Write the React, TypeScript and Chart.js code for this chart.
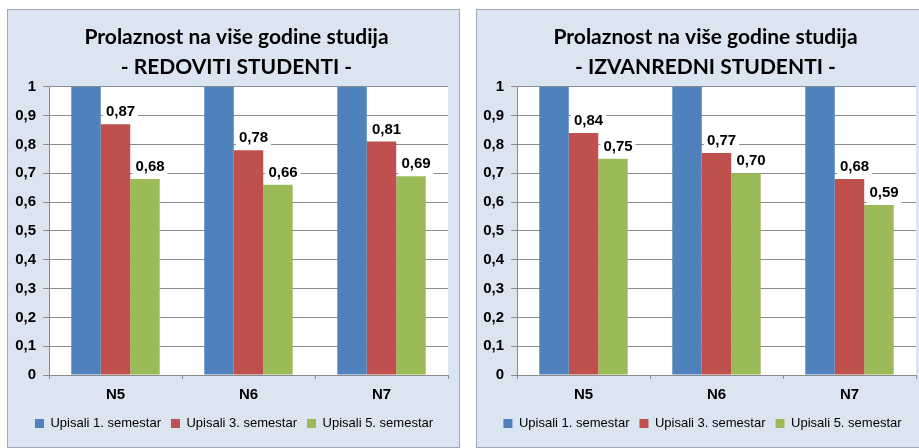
import React, { useEffect, useRef } from 'react';
import { Chart, registerables } from 'chart.js';

Chart.register(...registerables);

// ---- data ----
const categories = ['N5', 'N6', 'N7'];
const seriesLabels = ['Upisali 1. semestar', 'Upisali 3. semestar', 'Upisali 5. semestar'];
const seriesColors = ['#4f81bd', '#c0504d', '#9bbb59'];

const redovitiSem1 = [1, 1, 1];
const redovitiSem3 = [0.87, 0.78, 0.81];
const redovitiSem5 = [0.68, 0.66, 0.69];

const izvanredniSem1 = [1, 1, 1];
const izvanredniSem3 = [0.84, 0.77, 0.68];
const izvanredniSem5 = [0.75, 0.70, 0.59];

const titleLine1 = 'Prolaznost na više godine studija';
const titleRedovitiLine2 = '- REDOVITI STUDENTI -';
const titleIzvanredniLine2 = '- IZVANREDNI STUDENTI -';

const yMin = 0;
const yMax = 1;
const yStep = 0.1;

// ---- styles ----
const PANEL_BG = '#dbe5f1';
const PANEL_BORDER = '#a3a9b1';
const GRID = '#8c8c8c';
const TICK_FONT = { family: 'Liberation Sans, Arial, sans-serif', size: 15, weight: 'bold' as const };

const fmtTick = (v: number) => {
  if (Math.abs(v) < 1e-9) return '0';
  if (Math.abs(v - 1) < 1e-9) return '1';
  return Number(v).toFixed(1).replace('.', ',');
};

const bgPlugin = {
  id: 'panelBg',
  beforeDraw(chart: any) {
    const { ctx, chartArea: a, width, height } = chart;
    ctx.save();
    ctx.fillStyle = PANEL_BG;
    ctx.fillRect(0, 0, width, height);
    ctx.fillStyle = '#ffffff';
    ctx.fillRect(a.left, a.top, a.right - a.left, a.bottom - a.top);
    ctx.restore();
  },
};

// Centre title and legend on the panel (as in the reference) rather than on the plot.
const centerPlugin = {
  id: 'panelCenter',
  afterLayout(chart: any) {
    const c = chart.options.panelCenter as { title: number; legend: number } | undefined;
    if (!c) return;
    const tb = chart.titleBlock;
    if (tb) {
      const half = Math.min(c.title - 0, tb.right - c.title, 1000);
      tb.left = c.title - half;
      tb.right = c.title + half;
    }
    const lg = chart.legend;
    if (lg) {
      const half = Math.min(c.legend - 0, lg.right - c.legend);
      lg.left = c.legend - half;
      lg.right = c.legend + half;
    }
  },
};

const valueLabelPlugin = {
  id: 'valueLabels',
  afterDatasetsDraw(chart: any) {
    const { ctx } = chart;
    ctx.save();
    ctx.font = 'bold 15px "Liberation Sans", Arial, sans-serif';
    ctx.textAlign = 'center';
    ctx.textBaseline = 'middle';
    [1, 2].forEach((di) => {
      const meta = chart.getDatasetMeta(di);
      const ds = chart.data.datasets[di];
      meta.data.forEach((bar: any, i: number) => {
        const v = ds.data[i] as number;
        const txt = v.toFixed(2).replace('.', ',');
        const x = bar.x + 5;
        const y = bar.y - 12;
        const w = ctx.measureText(txt).width;
        ctx.fillStyle = '#ffffff';
        ctx.fillRect(x - w / 2 - 3, y - 10, w + 6, 20);
        ctx.fillStyle = '#000000';
        ctx.fillText(txt, x, y);
      });
    });
    ctx.restore();
  },
};

type PanelProps = {
  line2: string;
  s1: number[];
  s3: number[];
  s5: number[];
  yWidth: number;
  padRight: number;
  titleCenter: number;
  legendCenter: number;
  canvasWidth: number;
  canvasHeight: number;
};

function ChartPanel({ line2, s1, s3, s5, yWidth, padRight, titleCenter, legendCenter, canvasWidth, canvasHeight }: PanelProps) {
  const ref = useRef<HTMLCanvasElement | null>(null);
  useEffect(() => {
    if (!ref.current) return;
    const series = [s1, s3, s5];
    const chart = new Chart(ref.current, {
      type: 'bar',
      data: {
        labels: categories,
        datasets: series.map((d, i) => ({
          label: seriesLabels[i],
          data: d,
          backgroundColor: seriesColors[i],
          borderWidth: 0,
          categoryPercentage: 0.665,
          barPercentage: 1,
        })),
      },
      options: {
        responsive: false,
        animation: false,
        devicePixelRatio: 1,
        panelCenter: { title: titleCenter, legend: legendCenter },
        layout: { padding: { left: 0, right: padRight, top: 0, bottom: 7 } },
        plugins: {
          title: {
            display: true,
            text: [titleLine1, line2],
            color: '#000000',
            font: { family: 'Lato, sans-serif', size: 21, weight: 'bold', lineHeight: 1.4 },
            padding: { top: 13, bottom: 5 },
          },
          legend: {
            position: 'bottom',
            labels: {
              boxWidth: 9,
              boxHeight: 9,
              padding: 10,
              color: '#000000',
              font: { family: 'Liberation Sans, Arial, sans-serif', size: 13 },
            },
          },
          tooltip: { enabled: false },
        },
        scales: {
          x: {
            grid: { display: true, drawOnChartArea: false, tickLength: 4, color: GRID, offset: true },
            border: { color: GRID },
            ticks: { font: TICK_FONT, color: '#000000', padding: 7 },
            afterFit(scale: any) {
              scale.height = 32;
            },
          },
          y: {
            min: yMin,
            max: yMax,
            ticks: {
              stepSize: yStep,
              font: TICK_FONT,
              color: '#000000',
              padding: 7,
              callback: (v: any) => fmtTick(Number(v)),
            },
            grid: { color: GRID, tickLength: 6 },
            border: { color: GRID },
            afterFit(scale: any) {
              scale.width = yWidth;
            },
          },
        },
      },
      plugins: [bgPlugin, centerPlugin, valueLabelPlugin],
    } as any);
    return () => chart.destroy();
  }, []);
  return <canvas ref={ref} width={canvasWidth} height={canvasHeight} style={{ display: 'block' }} />;
}

export default function App() {
  return (
    <div style={{ position: 'fixed', left: 0, top: 0, width: 919, height: 448, overflow: 'hidden', background: '#ffffff' }}>
      <div style={{ position: 'absolute', left: 7, top: 9, border: `1px solid ${PANEL_BORDER}` }}>
        <ChartPanel
          line2={titleRedovitiLine2}
          s1={redovitiSem1}
          s3={redovitiSem3}
          s5={redovitiSem5}
          yWidth={41}
          padRight={11}
          titleCenter={228.5}
          legendCenter={226}
          canvasWidth={451}
          canvasHeight={437}
        />
      </div>
      <div style={{ position: 'absolute', left: 476, top: 9, border: `1px solid ${PANEL_BORDER}` }}>
        <ChartPanel
          line2={titleIzvanredniLine2}
          s1={izvanredniSem1}
          s3={izvanredniSem3}
          s5={izvanredniSem5}
          yWidth={40}
          padRight={4}
          titleCenter={228.5}
          legendCenter={225.5}
          canvasWidth={443}
          canvasHeight={437}
        />
      </div>
    </div>
  );
}
